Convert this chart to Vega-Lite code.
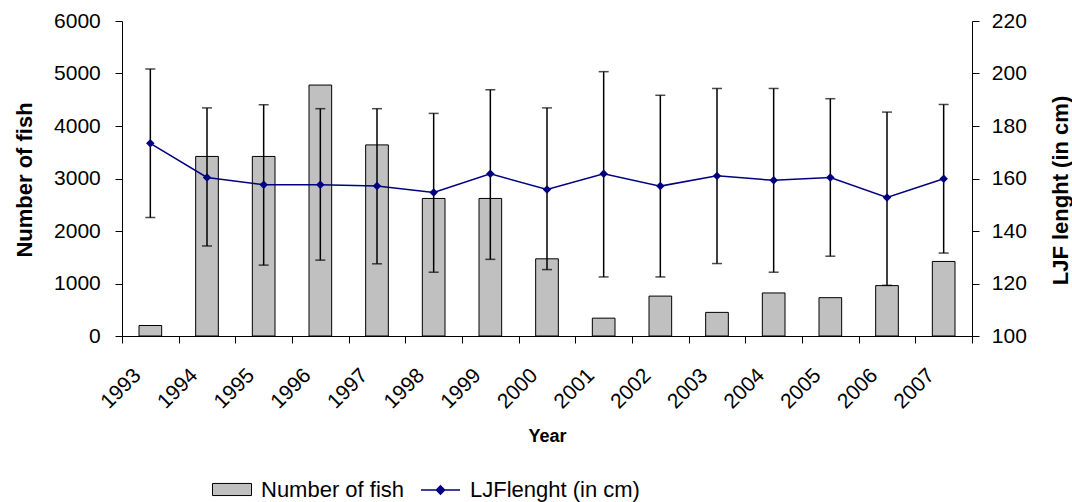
{
  "$schema": "https://vega.github.io/schema/vega-lite/v6.json",
  "width": 850,
  "height": 315,
  "autosize": {"type": "none"},
  "padding": {"left": 122, "top": 21, "right": 100, "bottom": 166},
  "background": "white",
  "config": {
    "view": {"stroke": null},
    "font": "Liberation Sans",
    "axis": {
      "grid": false,
      "domainColor": "#000",
      "domainWidth": 1,
      "tickColor": "#000",
      "tickWidth": 1,
      "tickSize": 7,
      "labelColor": "#000",
      "titleColor": "#000",
      "labelFont": "Liberation Sans",
      "titleFont": "Liberation Sans",
      "labelFontSize": 21,
      "titleFontSize": 22,
      "titleFontWeight": "bold"
    },
    "legend": {
      "title": null,
      "orient": "none",
      "direction": "horizontal",
      "padding": 0,
      "symbolSize": 1521,
      "labelFont": "Liberation Sans",
      "labelFontSize": 22,
      "labelColor": "#000",
      "labelLimit": 0,
      "labelOffset": 9,
      "symbolOpacity": 1
    }
  },
  "data": {
    "values": [
      {"Year": 1993, "Fish": 200, "Length": 173.4, "Low": 145.1, "High": 201.7},
      {"Year": 1994, "Fish": 3420, "Length": 160.4, "Low": 134.3, "High": 186.9},
      {"Year": 1995, "Fish": 3420, "Length": 157.6, "Low": 127.0, "High": 188.1},
      {"Year": 1996, "Fish": 4780, "Length": 157.6, "Low": 128.9, "High": 186.6},
      {"Year": 1997, "Fish": 3640, "Length": 157.1, "Low": 127.5, "High": 186.6},
      {"Year": 1998, "Fish": 2620, "Length": 154.7, "Low": 124.3, "High": 184.8},
      {"Year": 1999, "Fish": 2620, "Length": 161.8, "Low": 129.2, "High": 193.8},
      {"Year": 2000, "Fish": 1470, "Length": 155.8, "Low": 125.3, "High": 186.9},
      {"Year": 2001, "Fish": 340, "Length": 161.8, "Low": 122.5, "High": 200.7},
      {"Year": 2002, "Fish": 760, "Length": 157.1, "Low": 122.5, "High": 191.7},
      {"Year": 2003, "Fish": 450, "Length": 161.0, "Low": 127.6, "High": 194.3},
      {"Year": 2004, "Fish": 820, "Length": 159.3, "Low": 124.3, "High": 194.3},
      {"Year": 2005, "Fish": 730, "Length": 160.4, "Low": 130.4, "High": 190.4},
      {"Year": 2006, "Fish": 960, "Length": 152.8, "Low": 119.3, "High": 185.3},
      {"Year": 2007, "Fish": 1420, "Length": 159.9, "Low": 131.6, "High": 188.2}
    ]
  },
  "layer": [
    {
      "mark": {"type": "bar", "stroke": "#000", "strokeWidth": 1, "width": {"band": 0.4}},
      "encoding": {
        "x": {
          "field": "Year",
          "type": "ordinal",
          "scale": {"paddingInner": 0, "paddingOuter": 0},
          "axis": {
            "title": "Year",
            "titleFontSize": 18,
            "titleY": 105,
            "titleBaseline": "alphabetic",
            "labelFontSize": 21,
            "labelAngle": -45,
            "labelAlign": "right",
            "labelBaseline": "middle",
            "labelOffset": -13,
            "labelPadding": 29,
            "tickBand": "extent"
          }
        },
        "y": {
          "field": "Fish",
          "type": "quantitative",
          "scale": {"domain": [0, 6000], "nice": false, "zero": true},
          "axis": {
            "orient": "left",
            "values": [0, 1000, 2000, 3000, 4000, 5000, 6000],
            "format": "d",
            "labelFontSize": 21,
            "title": "Number of fish",
            "titleFontSize": 22,
            "titleAngle": -90,
            "titleX": -91,
            "titleY": 158.5,
            "titleAlign": "center",
            "titleBaseline": "alphabetic",
            "labelPadding": 14.7
          }
        },
        "fill": {
          "datum": "Number of fish",
          "type": "nominal",
          "scale": {"range": ["#c0c0c0"]},
          "legend": {
            "legendX": 90,
            "legendY": 448.5,
            "symbolType": "M-1,-0.31H1V0.31H-1Z",
            "symbolStrokeColor": "#000",
            "symbolStrokeWidth": 1
          }
        }
      }
    },
    {
      "layer": [
        {
          "mark": {"type": "rule", "color": "#000", "strokeWidth": 1.5},
          "encoding": {
            "x": {"field": "Year", "type": "ordinal"},
            "y": {
              "field": "Low",
              "type": "quantitative",
              "scale": {"domain": [100, 220], "nice": false, "zero": false},
              "axis": {
                "orient": "right",
                "values": [100, 120, 140, 160, 180, 200, 220],
                "format": "d",
                "labelFontSize": 21,
                "title": "LJF lenght (in cm)",
                "titleFontSize": 22,
                "titleAngle": -90,
                "titleX": 95,
                "titleY": 169,
                "titleAlign": "center",
                "titleBaseline": "alphabetic",
                "labelPadding": 12.3
              }
            },
            "y2": {"field": "High"}
          }
        },
        {
          "mark": {"type": "tick", "color": "#000", "thickness": 1.5},
          "encoding": {
            "x": {"field": "Year", "type": "ordinal"},
            "y": {
              "field": "Low",
              "type": "quantitative",
              "scale": {"domain": [100, 220], "nice": false, "zero": false},
              "axis": {
                "orient": "right",
                "values": [100, 120, 140, 160, 180, 200, 220],
                "format": "d",
                "labelFontSize": 21,
                "title": "LJF lenght (in cm)",
                "titleFontSize": 22,
                "titleAngle": -90,
                "titleX": 95,
                "titleY": 169,
                "titleAlign": "center",
                "titleBaseline": "alphabetic",
                "labelPadding": 12.3
              }
            },
            "size": {"value": 10}
          }
        },
        {
          "mark": {"type": "tick", "color": "#000", "thickness": 1.5},
          "encoding": {
            "x": {"field": "Year", "type": "ordinal"},
            "y": {
              "field": "High",
              "type": "quantitative",
              "scale": {"domain": [100, 220], "nice": false, "zero": false},
              "axis": {
                "orient": "right",
                "values": [100, 120, 140, 160, 180, 200, 220],
                "format": "d",
                "labelFontSize": 21,
                "title": "LJF lenght (in cm)",
                "titleFontSize": 22,
                "titleAngle": -90,
                "titleX": 95,
                "titleY": 169,
                "titleAlign": "center",
                "titleBaseline": "alphabetic",
                "labelPadding": 12.3
              }
            },
            "size": {"value": 10}
          }
        },
        {
          "mark": {"type": "line", "strokeWidth": 1.5},
          "encoding": {
            "x": {"field": "Year", "type": "ordinal"},
            "y": {
              "field": "Length",
              "type": "quantitative",
              "scale": {"domain": [100, 220], "nice": false, "zero": false},
              "axis": {
                "orient": "right",
                "values": [100, 120, 140, 160, 180, 200, 220],
                "format": "d",
                "labelFontSize": 21,
                "title": "LJF lenght (in cm)",
                "titleFontSize": 22,
                "titleAngle": -90,
                "titleX": 95,
                "titleY": 169,
                "titleAlign": "center",
                "titleBaseline": "alphabetic",
                "labelPadding": 12.3
              }
            },
            "stroke": {
              "datum": "LJFlenght (in cm)",
              "type": "nominal",
              "scale": {"range": ["#000080"]},
              "legend": {
                "legendX": 298,
                "legendY": 448.5,
                "symbolType": "M-1,0H1M-0.21,0L0,-0.21L0.21,0L0,0.21Z",
                "symbolFillColor": "#000080",
                "symbolStrokeWidth": 1.5
              }
            }
          }
        },
        {
          "mark": {"type": "point", "shape": "diamond", "filled": true, "color": "#000080", "opacity": 1, "size": 72},
          "encoding": {
            "x": {"field": "Year", "type": "ordinal"},
            "y": {
              "field": "Length",
              "type": "quantitative",
              "scale": {"domain": [100, 220], "nice": false, "zero": false},
              "axis": {
                "orient": "right",
                "values": [100, 120, 140, 160, 180, 200, 220],
                "format": "d",
                "labelFontSize": 21,
                "title": "LJF lenght (in cm)",
                "titleFontSize": 22,
                "titleAngle": -90,
                "titleX": 95,
                "titleY": 169,
                "titleAlign": "center",
                "titleBaseline": "alphabetic",
                "labelPadding": 12.3
              }
            }
          }
        }
      ]
    }
  ],
  "resolve": {"scale": {"y": "independent"}}
}
